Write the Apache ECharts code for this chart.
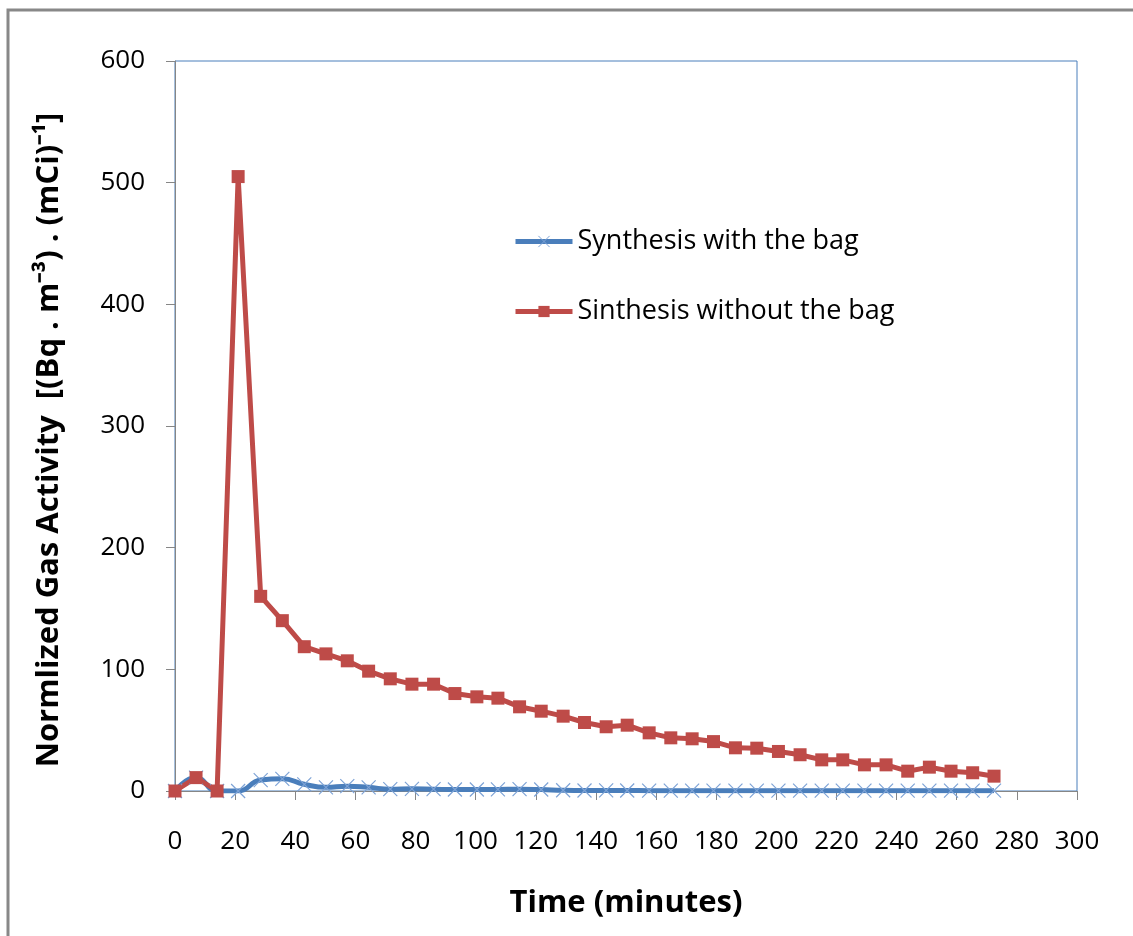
<!DOCTYPE html>
<html>
<head>
<meta charset="utf-8">
<script src="https://cdn.jsdelivr.net/npm/echarts@6/dist/echarts.min.js"></script>
<style>html,body{margin:0;padding:0;background:#fff}#c{width:1133px;height:936px}</style>
</head>
<body>
<div id="c"></div>
<script>
const times = [0,7,14,21,28.5,35.7,43,50.2,57.3,64.4,71.6,78.8,86,93.1,100.4,107.4,114.6,121.8,129.1,136.2,143.4,150.4,157.7,164.9,172,179.1,186.4,193.5,200.7,207.9,215.1,222.1,229.3,236.5,243.7,250.9,258.1,265.3,272.4];
const withBag = [0,11,0,0,9,10,5.5,3,4,3,1.5,1.8,1.5,1.2,1.2,1.3,1.5,1.2,0.6,0.4,0.5,0.4,0.3,0.3,0.3,0.3,0.3,0.3,0.3,0.3,0.3,0.3,0.3,0.3,0.3,0.3,0.3,0.3,0.3];
const withoutBag = [0,11,0,505,160,140,118.6,112.7,107,98.5,92.2,87.8,87.8,80.1,77.4,76.3,69.2,65.6,61.5,56.3,52.8,54.1,47.8,43.7,42.9,40.6,35.5,35.2,32.5,29.8,25.6,25.6,21.5,21.5,16.3,19.6,16.3,15,12.2];
const seriesNames = ['Synthesis with the bag','Sinthesis without the bag'];
const xTitle = 'Time (minutes)';
const yTitle = 'Normlized Gas Activity  [(Bq . m\u207B\u00B3) . (mCi)\u207B\u00B9]';

const FONT = '"Open Sans", "Liberation Sans", sans-serif';
const chart = echarts.init(document.getElementById('c'), null, {renderer:'canvas'});
chart.setOption({
  animation:false,
  backgroundColor:'#fff',
  graphic:[{type:'rect', shape:{x:8,y:10,width:1200,height:1000}, style:{fill:'none', stroke:'#888', lineWidth:3}, silent:true}],
  grid:{left:175,right:56,top:61,bottom:145,show:true,borderColor:'#4a7ebb',borderWidth:1,backgroundColor:'transparent'},
  legend:{orient:'vertical',left:513,top:228,padding:0,itemWidth:57,itemHeight:14,itemGap:43,
    textStyle:{fontFamily:FONT,fontSize:27,color:'#000'},
    data:[
      {name:seriesNames[0],lineStyle:{width:5,color:'#4a7ebb'},itemStyle:{color:'#4a7ebb',borderColor:'#7ea3d6',borderWidth:1}},
      {name:seriesNames[1],lineStyle:{width:5,color:'#be4b48'},itemStyle:{color:'#be4b48'}}
    ]},
  xAxis:{type:'value',min:0,max:300,interval:20,
    name:xTitle,nameLocation:'middle',nameGap:97,
    nameTextStyle:{fontFamily:FONT,fontSize:31,fontWeight:'bold',color:'#000'},
    axisLine:{lineStyle:{color:'#868686',width:1}},
    axisTick:{inside:false,length:9,lineStyle:{color:'#868686'}},
    axisLabel:{margin:38,fontFamily:FONT,fontSize:26,color:'#000'},
    splitLine:{show:false}},
  yAxis:{type:'value',min:0,max:600,interval:100,
    name:yTitle,nameLocation:'middle',nameGap:110,nameRotate:90,
    nameTextStyle:{fontFamily:FONT,fontSize:31,fontWeight:'bold',color:'#000',padding:[0,28,0,0]},
    axisLine:{show:true,lineStyle:{color:'#868686',width:1}},
    axisTick:{show:true,inside:false,length:9,lineStyle:{color:'#868686'}},
    axisLabel:{margin:30,fontFamily:FONT,fontSize:26,color:'#000'},
    splitLine:{show:false}},
  series:[
    {name:seriesNames[0],type:'line',smooth:0.5,
     data:times.map((t,i)=>[t,withBag[i]]),
     symbol:'path://M0,0L10,10M10,0L0,10',symbolSize:14,
     lineStyle:{color:'#4a7ebb',width:5},
     itemStyle:{color:'#4a7ebb',borderColor:'#7ea3d6',borderWidth:1.2}},
    {name:seriesNames[1],type:'line',smooth:false,
     data:times.map((t,i)=>[t,withoutBag[i]]),
     symbol:'rect',symbolSize:13,
     lineStyle:{color:'#be4b48',width:5},
     itemStyle:{color:'#be4b48'}}
  ]
});
</script>
</body>
</html>
